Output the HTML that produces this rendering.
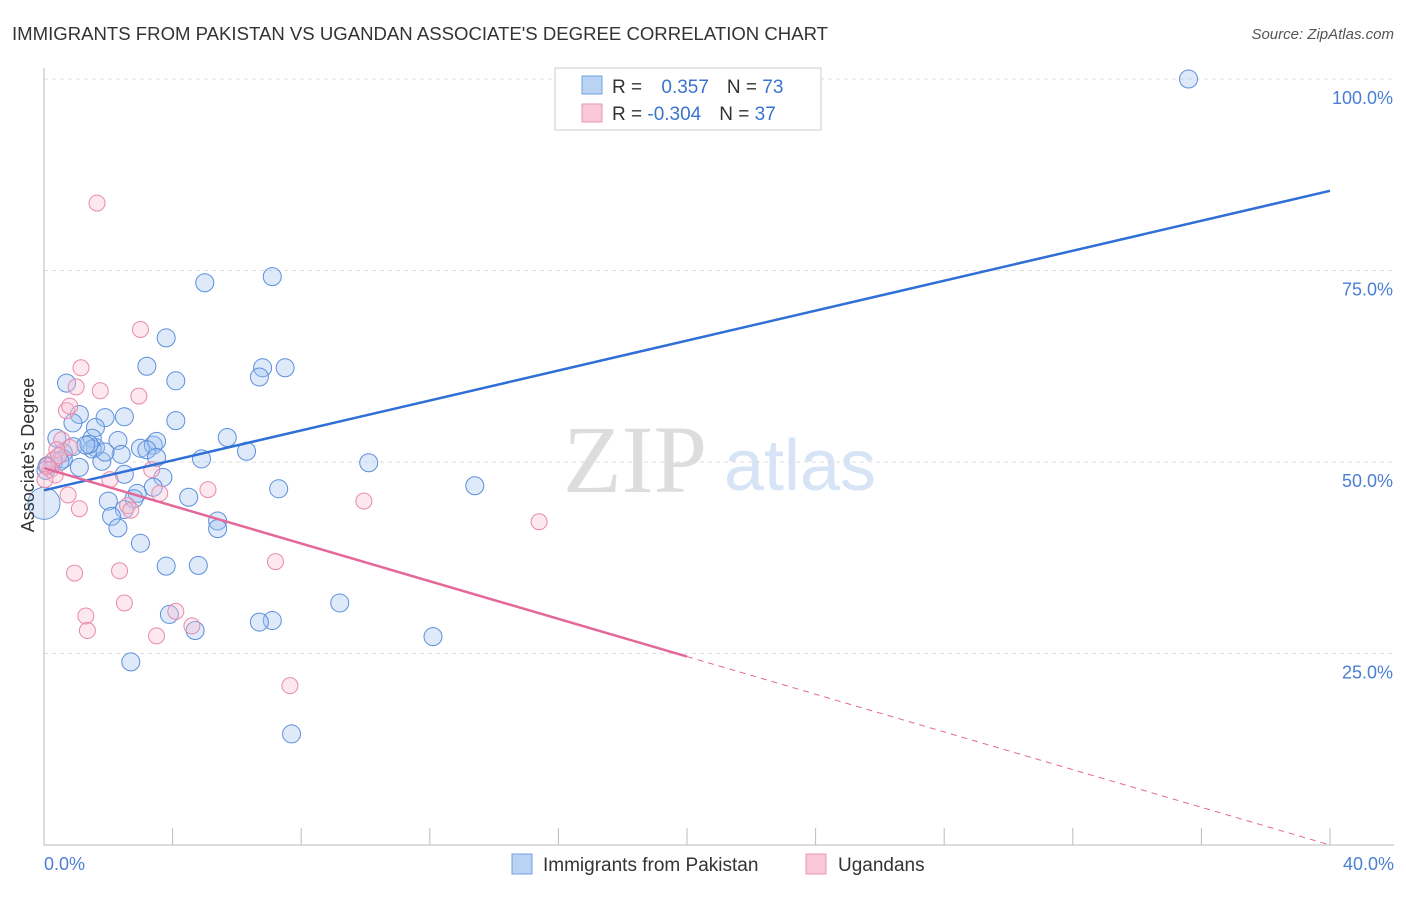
<!DOCTYPE html>
<html><head><meta charset="utf-8"><style>
body{margin:0;background:#fff;font-family:"Liberation Sans",sans-serif}
#c{position:relative;width:1406px;height:892px}
</style></head><body>
<div id="c">
<svg id="s" width="1406" height="892" xmlns="http://www.w3.org/2000/svg">
<text x="12" y="40" font-size="18" fill="#333" textLength="816" lengthAdjust="spacingAndGlyphs">IMMIGRANTS FROM PAKISTAN VS UGANDAN ASSOCIATE'S DEGREE CORRELATION CHART</text>
<text x="1394" y="39" font-size="15" fill="#555" font-style="italic" text-anchor="end">Source: ZipAtlas.com</text>
<text x="635" y="492" font-size="96" fill="#ddd" font-family="Liberation Serif" text-anchor="middle">ZIP</text>
<text x="800" y="490" font-size="72" fill="#d6e4f5" text-anchor="middle">atlas</text>
<g id="grid"></g><g id="pts"></g><g id="lines"></g>
<text transform="translate(34,455) rotate(-90)" font-size="18" fill="#333" text-anchor="middle">Associate's Degree</text>
<text x="44" y="870" font-size="18" fill="#4a7fd4">0.0%</text>
<text x="1394" y="870" font-size="18" fill="#4a7fd4" text-anchor="end">40.0%</text>
<g>
<rect x="555" y="68" width="266" height="62" fill="#fff" stroke="#ccc"/>
<rect x="582" y="76" width="20" height="18" fill="#b9d3f5" stroke="#6fa0e0"/>
<rect x="582" y="104" width="20" height="18" fill="#f9c9d7" stroke="#e896b0"/>
<text x="612" y="93" font-size="19" fill="#333">R = <tspan fill="#3a73d0" dx="14">0.357</tspan><tspan dx="18" fill="#333">N = </tspan><tspan fill="#3a73d0">73</tspan></text>
<text x="612" y="120" font-size="19" fill="#333">R = <tspan fill="#3a73d0">-0.304</tspan><tspan dx="18" fill="#333">N = </tspan><tspan fill="#3a73d0">37</tspan></text>
</g>
<g>
<rect x="512" y="854" width="20" height="20" fill="#b9d3f5" stroke="#6fa0e0"/>
<text x="543" y="871" font-size="19" fill="#333">Immigrants from Pakistan</text>
<rect x="806" y="854" width="20" height="20" fill="#f9c9d7" stroke="#e896b0"/>
<text x="838" y="871" font-size="19" fill="#333">Ugandans</text>
</g>
</svg></div>
<script>
const yTicks=[25,50,75,100];
const xTicks=[0,4,8,12,16,20,24,28,32,36,40];
const blueX=[35.6,16.4,5.0,7.1,3.8,3.2,6.8,7.5,6.7,4.1,0.7,2.5,4.1,1.1,1.9,0.9,1.6,0.4,1.5,2.3,1.6,3.0,3.4,3.5,0.9,3.2,5.7,6.3,2.4,1.5,0.6,0.3,0.1,1.8,1.1,3.5,4.9,10.1,2.5,3.7,0.06,13.4,3.4,7.3,2.9,4.5,2.0,2.8,2.5,2.1,5.4,5.4,2.3,3.0,3.8,4.8,9.2,3.9,7.1,6.7,4.7,12.1,2.7,7.7,0,1.4,0.6,1.9,1.3,0.5];
const blueY=[100,96.9,73.4,74.2,66.2,62.5,62.3,62.3,61.1,60.6,60.3,55.9,55.4,56.2,55.8,55.1,54.5,53.1,53.1,52.8,51.9,51.8,52.2,52.7,52.0,51.6,53.2,51.4,51.0,51.7,51.2,50.1,49.5,50.1,49.3,50.6,50.4,49.9,48.4,48.0,48.9,46.9,46.7,46.5,45.9,45.4,44.9,45.2,43.8,42.9,42.3,41.3,41.4,39.4,36.4,36.5,31.6,30.1,29.3,29.1,28.0,27.2,23.9,14.5,44.6,52.3,50.4,51.3,52.2,50.1];
const blueR=[9,9,9,9,9,9,9,9,9,9,9,9,9,9,9,9,9,9,9,9,9,9,9,9,9,9,9,9,9,9,9,9,9,9,9,9,9,9,9,9,9,9,9,9,9,9,9,9,9,9,9,9,9,9,9,9,9,9,9,9,9,9,9,9,16,9,9,9,9,9];
const pinkX=[1.65,3.0,1.15,1.0,1.75,2.95,0.7,0.8,0.55,0.8,0.4,0.3,0.2,0.35,2.05,3.35,5.1,3.6,0.75,1.1,2.6,2.7,9.95,15.4,7.2,0.95,2.35,2.5,1.3,4.1,4.6,3.5,1.35,7.65,0.1,0.45,0.03];
const pinkY=[83.8,67.3,62.3,59.8,59.3,58.6,56.7,57.3,52.9,51.9,51.6,50.3,49.0,48.3,47.7,49.0,46.4,45.9,45.7,43.9,44.3,43.7,44.9,42.2,37.0,35.5,35.8,31.6,29.9,30.5,28.6,27.3,28.0,20.8,49.5,50.8,47.7];
const blueLine=[46.3,85.4];
const pinkLine=[49.2,0];
const pinkSolidEnd=20;
const X=v=>44+v*32.15, Y=v=>845-v*7.66;
const NS="http://www.w3.org/2000/svg";
function mk(t,a,p){const e=document.createElementNS(NS,t);for(const k in a)e.setAttribute(k,a[k]);p.appendChild(e);return e;}
const grid=document.getElementById('grid');
yTicks.forEach(t=>{const l=mk('line',{x1:44,x2:1394,y1:Y(t),y2:Y(t),stroke:'#ddd','stroke-dasharray':'4,4'},grid);


const tx=mk('text',{x:1393,y:Y(t)+25,'font-size':18,fill:'#4a7fd4','text-anchor':'end'},grid);tx.textContent=t.toFixed(1)+'%';

});
const ax=mk('line',{x1:44,x2:1394,y1:845,y2:845,stroke:'#bbb'},grid);


const ay=mk('line',{x1:44,x2:44,y1:68,y2:845,stroke:'#bbb'},grid);


xTicks.forEach(t=>{const l=mk('line',{x1:X(t),x2:X(t),y1:828,y2:845,stroke:'#bbb'},grid);

});
const pts=document.getElementById('pts');
blueX.forEach((v,i)=>{const c=mk('circle',{cx:X(v),cy:Y(blueY[i]),r:blueR[i],fill:'rgba(160,195,240,0.35)',stroke:'#5b8fdc','stroke-width':1},pts);

});
pinkX.forEach((v,i)=>{const c=mk('circle',{cx:X(v),cy:Y(pinkY[i]),r:8,fill:'rgba(248,190,210,0.35)',stroke:'#e88aaa','stroke-width':1},pts);

});
const L=document.getElementById('lines');
const bl=mk('line',{x1:X(0),y1:Y(blueLine[0]),x2:X(40),y2:Y(blueLine[1]),stroke:'#2f6fd6','stroke-width':2.5},L);


const pv=x=>pinkLine[0]+(pinkLine[1]-pinkLine[0])*x/40;
const pl=mk('line',{x1:X(0),y1:Y(pv(0)),x2:X(pinkSolidEnd),y2:Y(pv(pinkSolidEnd)),stroke:'#e4689a','stroke-width':2.5},L);


const pd=mk('line',{x1:X(pinkSolidEnd),y1:Y(pv(pinkSolidEnd)),x2:X(40),y2:Y(pv(40)),stroke:'#e4689a','stroke-width':1,'stroke-dasharray':'6,5'},L);


</script>
</body></html>
